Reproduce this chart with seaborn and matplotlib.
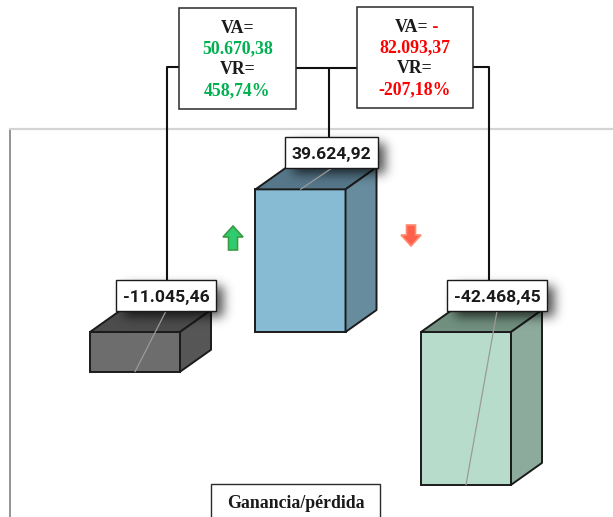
import math
import numpy as np
import pandas as pd
import matplotlib
matplotlib.use("Agg")
import matplotlib.pyplot as plt
from matplotlib.patches import Polygon, Rectangle
from matplotlib.lines import Line2D
from matplotlib.transforms import Affine2D
import seaborn as sns

# ---- data -------------------------------------------------------------
periodos = ["Periodo 1", "Periodo 2", "Periodo 3"]
resultado = [-11045.46, 39624.92, -42468.45]
titulo_eje = "Ganancia/pérdida"

# face colours of each 3D box: front, right side, top
color_frente = ["#6d6d6d", "#86bbd3", "#b8dccb"]
color_lado = ["#565656", "#678c9e", "#8dab9d"]
color_tapa = ["#4c4c4c", "#56778a", "#71907f"]

VERDE = "#00b050"
ROJO = "#ff0000"


def fmt_es(v, dec=2):
    s = f"{abs(v):,.{dec}f}".replace(",", "X").replace(".", ",").replace("X", ".")
    return ("-" if v < 0 else "") + s


# absolute (VA) and relative (VR) variation between consecutive periods
var_abs = [resultado[i + 1] - resultado[i] for i in range(len(resultado) - 1)]
var_rel = [var_abs[i] / abs(resultado[i]) * 100 for i in range(len(var_abs))]

# ---- figure -----------------------------------------------------------
W, H, DPI = 613, 517, 100
sns.set_theme(style="white")
fig = plt.figure(figsize=(W / DPI, H / DPI), dpi=DPI)
ax = fig.add_axes([0, 0, 1, 1])

df = pd.DataFrame({"periodo": periodos, "resultado": resultado})
sns.barplot(data=df, x="periodo", y="resultado", hue="periodo",
            palette=color_frente, saturation=1, width=0.544,
            edgecolor="#1b1b1b", linewidth=1.4, errorbar=None,
            legend=False, ax=ax, zorder=2)

# scale: zero line 332 px from the top, 3.6 px per 1000 units
Y0, K = 332, 3.6 / 1000
ax.set_ylim(-(H - Y0) / K, Y0 / K)
ax.set_xlim(-135 / 165.5, (W - 135) / 165.5)
ax.set_axis_off()

# transform for layout elements given in pixels from the top-left corner
pix = Affine2D().scale(1 / W, -1 / H).translate(0, 1) + fig.transFigure


def to_px(x, y):
    d = ax.transData.transform((x, y))
    return d[0] / fig.bbox.width * W, H - d[1] / fig.bbox.height * H


def vseg(xs, ys, **kw):
    ax.add_line(Line2D(xs, ys, transform=pix, **kw))


def erf_arr(a):
    return np.vectorize(math.erf)(a)


# chart-area frame
vseg([10, 10], [129, H + 5], color="#8c8c8c", lw=1.3, zorder=0)
vseg([10, W + 5], [129, 129], color="#d4d4d4", lw=1.6, zorder=0)

# ---- 3D boxes ---------------------------------------------------------
DX, DY = 31, 22
bars = sorted(ax.patches, key=lambda p: p.get_x())
renderer = fig.canvas.get_renderer()
label_tops = []

for i, bar in enumerate(bars):
    x0, w = bar.get_x(), bar.get_width()
    y0, h = bar.get_y(), bar.get_height()
    top, bot = max(y0, y0 + h), min(y0, y0 + h)
    L, T = to_px(x0, top)
    R, B = to_px(x0 + w, bot)
    cx = (L + R) / 2

    tapa = [(L, T), (R, T), (R + DX, T - DY), (L + DX, T - DY)]
    lado = [(R, T), (R, B), (R + DX, B - DY), (R + DX, T - DY)]
    for pts, col in ((tapa, color_tapa[i]), (lado, color_lado[i])):
        ax.add_patch(Polygon(pts, closed=True, transform=pix, facecolor=col,
                             edgecolor="#1b1b1b", lw=1.4, joinstyle="round",
                             zorder=2))

    # data label sitting on the top of the box
    lcx = cx + DX
    lbot = T - DY + 1
    lh = 31
    txt = ax.text(lcx, lbot - lh / 2 + 6.5, fmt_es(resultado[i]),
                  transform=pix, ha="center", va="baseline", fontsize=12.6,
                  fontweight="bold", family="Roboto", color="#1a1a1a",
                  zorder=7)
    tw = txt.get_window_extent(renderer).width / fig.bbox.width * W
    lw_box = tw + 13
    lx0, ly0 = lcx - lw_box / 2, lbot - lh
    ax.add_patch(Rectangle((lx0, ly0), lw_box, lh, transform=pix,
                           facecolor="white", edgecolor="#1a1a1a", lw=1.0,
                           zorder=6))
    label_tops.append(ly0)

    # soft drop shadow of the label
    sx, sy, sg, m = 8, 6, 5.5, 20
    gx = np.arange(lx0 - m, lx0 + lw_box + m + sx, 1.0)
    gy = np.arange(ly0 - m, ly0 + lh + m + sy, 1.0)
    ax_ = 0.5 * (erf_arr((gx - (lx0 + sx)) / (sg * 1.414))
                 - erf_arr((gx - (lx0 + lw_box + sx)) / (sg * 1.414)))
    ay_ = 0.5 * (erf_arr((gy - (ly0 + sy)) / (sg * 1.414))
                 - erf_arr((gy - (ly0 + lh + sy)) / (sg * 1.414)))
    alpha = np.outer(ay_, ax_) * 0.68
    img = np.zeros((len(gy), len(gx), 4))
    img[..., 3] = alpha
    ax.imshow(img, extent=(gx[0], gx[-1], gy[-1], gy[0]), transform=pix,
              origin="upper", aspect="auto", interpolation="bilinear",
              zorder=3)

    # leader line from the label to the value point on the front face
    py = T if resultado[i] >= 0 else B
    vseg([lcx, cx], [lbot, py], color="#9a9a9a", lw=0.9, zorder=4)

# ---- trend arrows -----------------------------------------------------
def block_arrow(xc, ytop, ybot, up, fc, ec):
    hw, sw = 10, 4.5
    hl = 11
    if up:
        pts = [(xc, ytop), (xc + hw, ytop + hl), (xc + sw, ytop + hl),
               (xc + sw, ybot), (xc - sw, ybot), (xc - sw, ytop + hl),
               (xc - hw, ytop + hl)]
    else:
        pts = [(xc, ybot), (xc + hw, ybot - hl), (xc + sw, ybot - hl),
               (xc + sw, ytop), (xc - sw, ytop), (xc - sw, ybot - hl),
               (xc - hw, ybot - hl)]
    ax.add_patch(Polygon(pts, closed=True, transform=pix, facecolor=fc,
                         edgecolor=ec, lw=1.2, joinstyle="miter", zorder=5))


block_arrow(233, 226, 250, var_abs[0] > 0, "#2ecc6f", "#3d9a45")
block_arrow(411, 225, 246, var_abs[1] > 0, "#ff5f4a", "#ff8a70")

# ---- variation boxes and connectors ----------------------------------
serif = dict(family="Liberation Serif", fontweight="bold", fontsize=12.8,
             ha="center", va="baseline", transform=pix, zorder=8)
cajas = [(179, 8, 117, 101), (357, 7, 116, 101)]
for j, (bx, by, bw, bh) in enumerate(cajas):
    ax.add_patch(Rectangle((bx, by), bw, bh, transform=pix, facecolor="white",
                           edgecolor="#2a2a2a", lw=1.1, zorder=7))
    col = VERDE if var_abs[j] >= 0 else ROJO
    xc = bx + bw / 2
    base = by + 25
    if var_abs[j] >= 0:
        ax.text(xc, base, "VA=", color="#1a1a1a", **serif)
    else:
        t1 = ax.text(xc + 13, base, "VA=", color="#1a1a1a",
                     **{**serif, "ha": "right"})
        ax.annotate(" -", xy=(1, 0), xycoords=t1, ha="left", va="bottom",
                    color=ROJO, family="Liberation Serif", fontweight="bold",
                    fontsize=12.8, zorder=8)
    ax.text(xc, base + 20.5, fmt_es(abs(var_abs[j])), color=col, **serif)
    ax.text(xc, base + 41, "VR=", color="#1a1a1a", **serif)
    ax.text(xc, base + 62, fmt_es(var_rel[j]) + "%", color=col, **serif)

conn = dict(color="#111111", lw=1.5, zorder=5, solid_capstyle="butt")
vseg([167, 167, 179], [label_tops[0], 67, 67], **conn)
vseg([296, 357], [68, 68], **conn)
vseg([329, 329], [68, label_tops[1]], **conn)
vseg([473, 489, 489], [67, 67, label_tops[2]], **conn)

# axis title box at the bottom
ax.add_patch(Rectangle((211, 484), 169, 45, transform=pix, facecolor="white",
                       edgecolor="#2a2a2a", lw=1.0, zorder=7))
ax.text(295.5, 508, titulo_eje, color="#1a1a1a", **serif)

ax.set_ylim(-(H - Y0) / K, Y0 / K)
ax.set_xlim(-135 / 165.5, (W - 135) / 165.5)
fig.savefig("out.png", dpi=DPI)
